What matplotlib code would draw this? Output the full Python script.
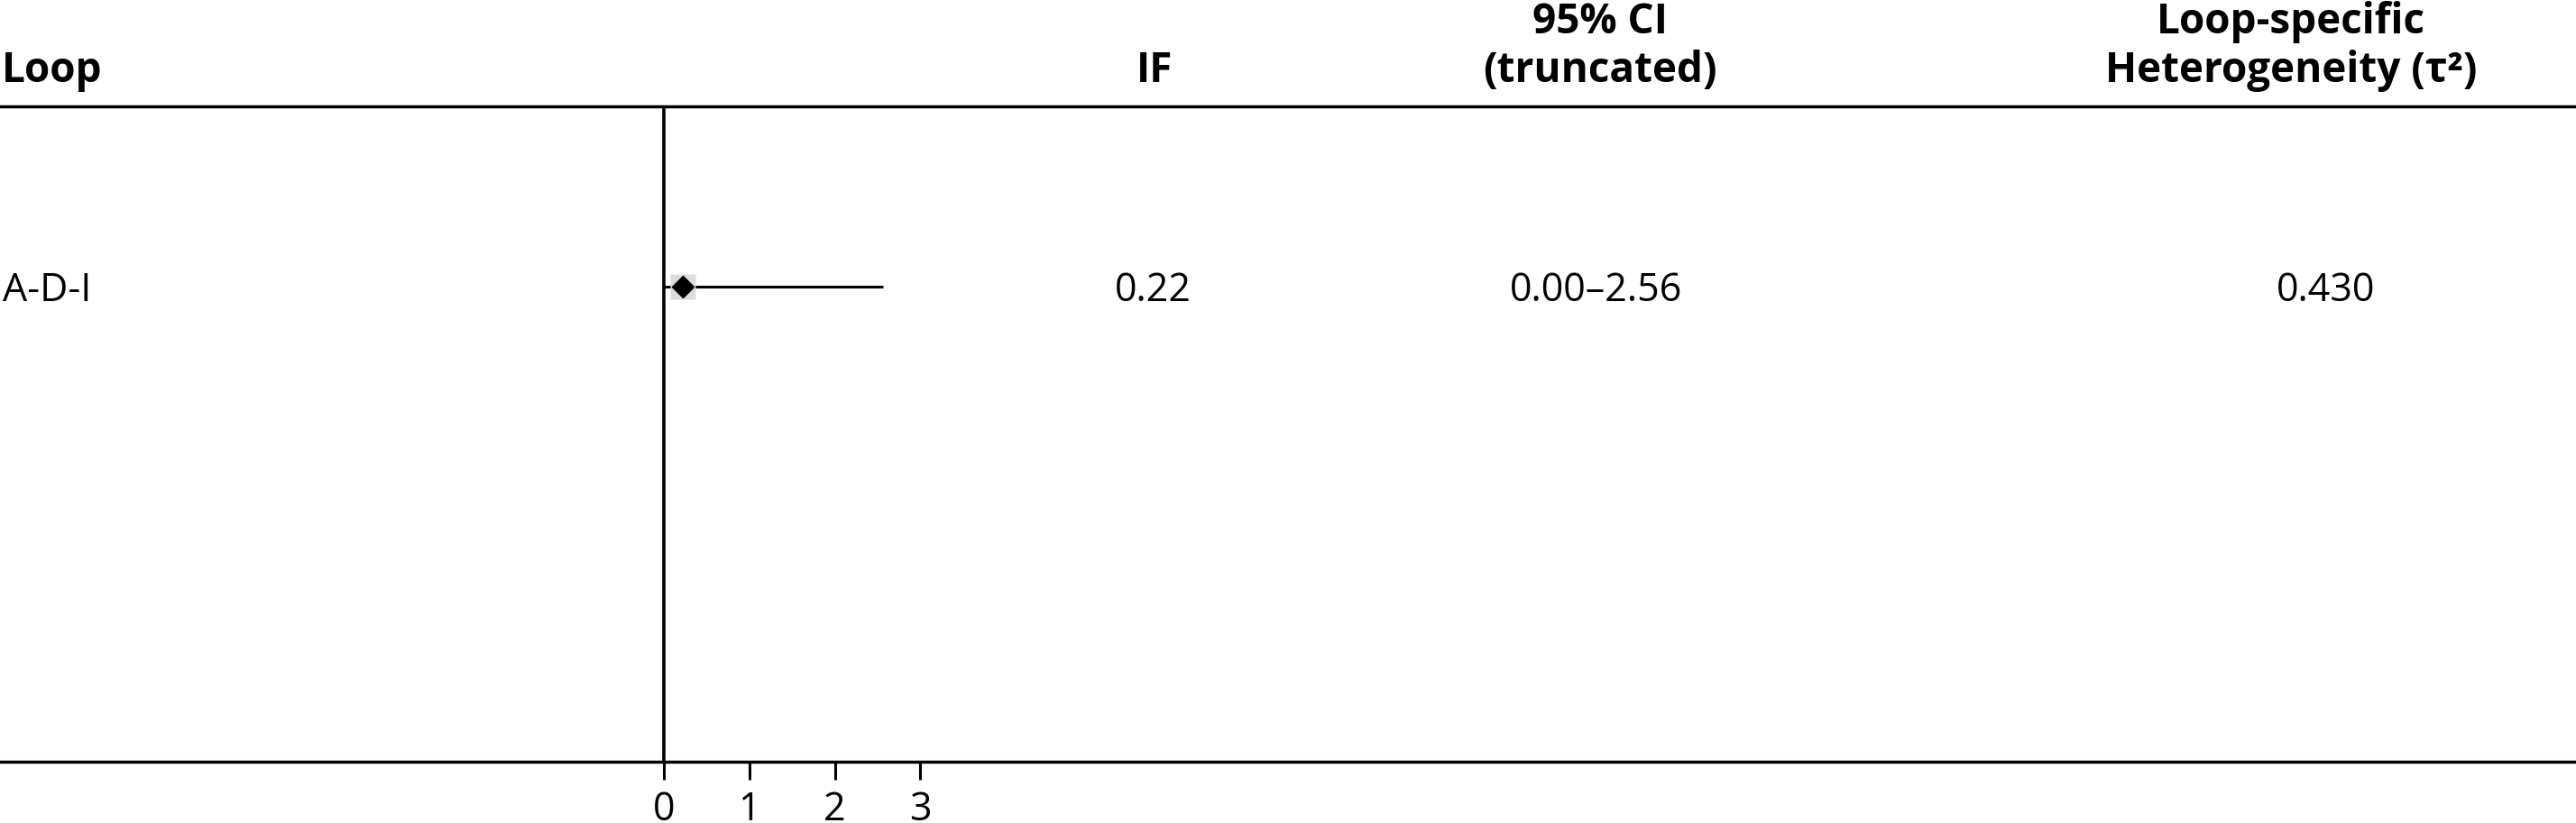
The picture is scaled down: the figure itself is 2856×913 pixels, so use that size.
import matplotlib
matplotlib.use("Agg")
import matplotlib.pyplot as plt
from matplotlib.transforms import blended_transform_factory, offset_copy

plt.rcParams['font.family'] = ['Open Sans', 'DejaVu Sans']

# data
loops = ['A-D-I']
if_vals = [0.22]
ci_low = [0.00]
ci_high = [2.56]
tau2 = [0.430]
xticks = [0, 1, 2, 3]

W, H = 2856, 913
fig = plt.figure(figsize=(W / 100, H / 100), dpi=100)

# forest axes spans the whole width, between the two rules
top_px, bot_px = 118, 845
ax = fig.add_axes([0, (H - bot_px) / H, 1, (bot_px - top_px) / H])
unit = 94.8  # pixels per IF unit
zero_px = 736
ax.set_xlim(-zero_px / unit, (W - zero_px) / unit)
ax.set_ylim(-2.64, 1.0)

for s in ['left', 'right']:
    ax.spines[s].set_visible(False)
for s in ['top', 'bottom']:
    ax.spines[s].set_linewidth(2.5)
ax.axvline(0, color='black', lw=2.6)

ax.set_yticks([])
ax.set_xticks(xticks)
ax.set_xticklabels([str(t) for t in xticks])
ax.tick_params(axis='x', direction='out', length=14.5, width=2.2,
               labelsize=31, pad=8)

rows = list(range(len(loops)))
for i, r in enumerate(rows):
    ax.plot([ci_low[i], ci_high[i]], [r, r], color='black', lw=2.2,
            solid_capstyle='butt', zorder=2)
    ax.plot(if_vals[i], r, marker='s', ms=20, color='#dcdcdc', mec='none', zorder=3)
    ax.plot(if_vals[i], r, marker='D', ms=13.5, color='black', mec='none', zorder=4)

# table text
trans = blended_transform_factory(fig.transFigure, ax.transData)
row_trans = offset_copy(trans, fig=fig, y=-16, units='dots')
for i, r in enumerate(rows):
    ax.text(3 / W, r, loops[i], transform=row_trans, ha='left', va='baseline', fontsize=31)
    ax.text(1278 / W, r, f"{if_vals[i]:.2f}", transform=row_trans, ha='center', va='baseline', fontsize=31)
    ax.text(1770 / W, r, f"{ci_low[i]:.2f}\u2013{ci_high[i]:.2f}", transform=row_trans,
            ha='center', va='baseline', fontsize=31)
    ax.text(2579 / W, r, f"{tau2[i]:.3f}", transform=row_trans, ha='center', va='baseline', fontsize=31)

# headers
hdr = dict(fontsize=33, fontweight='bold', va='baseline')
y2 = 1 - 91 / H
y1 = 1 - 37 / H
fig.text(2 / W, y2, 'Loop', ha='left', **hdr)
fig.text(1280 / W, y2, 'IF', ha='center', **hdr)
fig.text(1774 / W, y1, '95% CI', ha='center', **hdr)
fig.text(1774 / W, y2, '(truncated)', ha='center', **hdr)
fig.text(2540 / W, y1, 'Loop-specific', ha='center', **hdr)
fig.text(2540 / W, y2, 'Heterogeneity (\u03c4\u00b2)', ha='center', **hdr)

fig.savefig('out.png', dpi=100)
